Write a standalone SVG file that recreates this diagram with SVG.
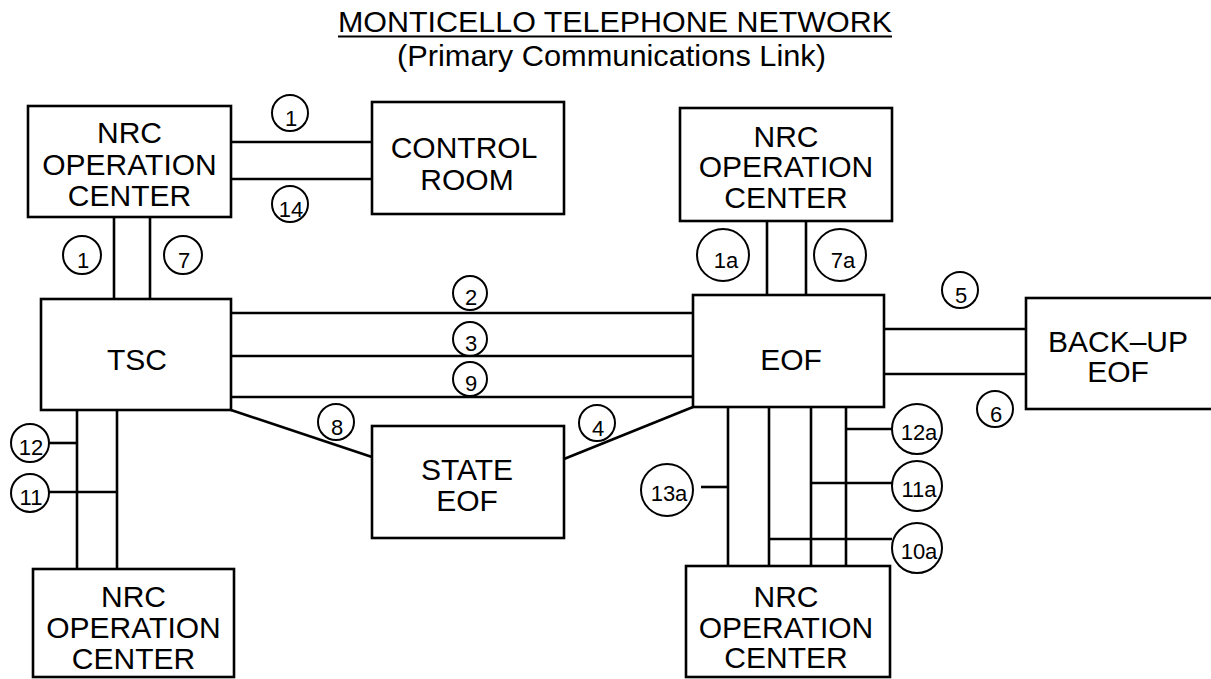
<svg xmlns="http://www.w3.org/2000/svg" width="1211" height="679" viewBox="0 0 1211 679">
<style>
.box{fill:#fff;stroke:#000;stroke-width:2.6}
.bt{font-family:"Liberation Sans",Arial,sans-serif;font-size:30px;text-anchor:middle;fill:#000}
.ln{stroke:#000;stroke-width:2.6;fill:none}
.cl{fill:none;stroke:#000;stroke-width:2}
.ct{font-family:"Liberation Sans",Arial,sans-serif;font-size:22px;text-anchor:middle;fill:#000}
.tt{font-family:"Liberation Sans",Arial,sans-serif;font-size:30px;fill:#000}
</style>
<rect width="1211" height="679" fill="#fff"/>
<g id="title">
<text class="tt" x="338" y="32" textLength="554" lengthAdjust="spacingAndGlyphs">MONTICELLO TELEPHONE NETWORK</text>
<line x1="338" y1="36.5" x2="892" y2="36.5" stroke="#000" stroke-width="2"/>
<text class="tt" x="397" y="66" textLength="429" lengthAdjust="spacingAndGlyphs">(Primary Communications Link)</text>
</g>
<g id="connectors">
<line class="ln" x1="231" y1="142" x2="372" y2="142"/>
<line class="ln" x1="231" y1="179" x2="372" y2="179"/>
<line class="ln" x1="114" y1="217" x2="114" y2="299"/>
<line class="ln" x1="150" y1="217" x2="150" y2="299"/>
<line class="ln" x1="231" y1="313" x2="693" y2="313"/>
<line class="ln" x1="231" y1="356" x2="693" y2="356"/>
<line class="ln" x1="231" y1="397" x2="693" y2="397"/>
<line class="ln" x1="767" y1="221" x2="767" y2="295"/>
<line class="ln" x1="806" y1="221" x2="806" y2="295"/>
<line class="ln" x1="884" y1="329" x2="1026" y2="329"/>
<line class="ln" x1="884" y1="374" x2="1026" y2="374"/>
<line class="ln" x1="231" y1="410" x2="372" y2="457"/>
<line class="ln" x1="564" y1="459" x2="693" y2="407"/>
<line class="ln" x1="77" y1="410" x2="77" y2="569"/>
<line class="ln" x1="117" y1="410" x2="117" y2="569"/>
<line class="ln" x1="49" y1="443" x2="77" y2="443"/>
<line class="ln" x1="49" y1="492" x2="117" y2="492"/>
<line class="ln" x1="728" y1="407" x2="728" y2="566"/>
<line class="ln" x1="769" y1="407" x2="769" y2="566"/>
<line class="ln" x1="811" y1="407" x2="811" y2="566"/>
<line class="ln" x1="846" y1="407" x2="846" y2="566"/>
<line class="ln" x1="846" y1="429" x2="892" y2="429"/>
<line class="ln" x1="811" y1="483" x2="892" y2="483"/>
<line class="ln" x1="769" y1="539" x2="892" y2="539"/>
<line class="ln" x1="701" y1="487" x2="728" y2="487"/>
</g>
<g id="labels">
<circle class="cl" cx="290" cy="113" r="18"/><text class="ct" x="291" y="126">1</text>
<circle class="cl" cx="290" cy="204" r="18"/><text class="ct" x="291" y="217">14</text>
<circle class="cl" cx="82" cy="255" r="19"/><text class="ct" x="83" y="268">1</text>
<circle class="cl" cx="183" cy="255" r="19"/><text class="ct" x="184" y="268">7</text>
<circle class="cl" cx="470" cy="293" r="17"/><text class="ct" x="471" y="305">2</text>
<circle class="cl" cx="470" cy="339" r="17"/><text class="ct" x="471" y="351">3</text>
<circle class="cl" cx="470" cy="379" r="17"/><text class="ct" x="471" y="391">9</text>
<circle class="cl" cx="336" cy="422" r="18"/><text class="ct" x="337" y="435">8</text>
<circle class="cl" cx="597" cy="423" r="18"/><text class="ct" x="598" y="436">4</text>
<circle class="cl" cx="723" cy="255" r="26"/><text class="ct" x="726" y="268">1a</text>
<circle class="cl" cx="840" cy="255" r="26"/><text class="ct" x="843" y="268">7a</text>
<circle class="cl" cx="960" cy="290" r="18"/><text class="ct" x="961" y="303">5</text>
<circle class="cl" cx="995" cy="409" r="18"/><text class="ct" x="996" y="422">6</text>
<circle class="cl" cx="917" cy="429" r="25"/><text class="ct" x="919" y="440">12a</text>
<circle class="cl" cx="917" cy="486" r="25"/><text class="ct" x="919" y="497">11a</text>
<circle class="cl" cx="917" cy="548" r="25"/><text class="ct" x="919" y="559">10a</text>
<circle class="cl" cx="667" cy="490" r="26"/><text class="ct" x="669" y="501">13a</text>
<circle class="cl" cx="30" cy="443" r="19"/><text class="ct" x="31" y="455">12</text>
<circle class="cl" cx="30" cy="493" r="19"/><text class="ct" x="31" y="505">11</text>
</g>
<g id="nrc-top-left">
<rect class="box" x="28" y="106" width="203" height="111"/>
<text class="bt" x="129.5" y="143">NRC</text>
<text class="bt" x="129.5" y="175">OPERATION</text>
<text class="bt" x="129.5" y="206">CENTER</text>
</g>
<g id="control-room">
<rect class="box" x="372" y="102" width="192" height="112"/>
<text class="bt" x="464" y="158">CONTROL</text>
<text class="bt" x="467" y="190">ROOM</text>
</g>
<g id="nrc-top-right">
<rect class="box" x="680" y="108" width="212" height="113"/>
<text class="bt" x="786" y="147">NRC</text>
<text class="bt" x="786" y="177">OPERATION</text>
<text class="bt" x="786" y="208">CENTER</text>
</g>
<g id="tsc">
<rect class="box" x="41" y="299" width="190" height="111"/>
<text class="bt" x="137" y="370">TSC</text>
</g>
<g id="eof">
<rect class="box" x="693" y="295" width="191" height="112"/>
<text class="bt" x="791" y="370">EOF</text>
</g>
<g id="backup-eof">
<rect class="box" x="1026" y="298" width="192" height="111"/>
<text class="bt" x="1118" y="352">BACK–UP</text>
<text class="bt" x="1118" y="382">EOF</text>
</g>
<g id="state-eof">
<rect class="box" x="372" y="426" width="192" height="112"/>
<text class="bt" x="467" y="480">STATE</text>
<text class="bt" x="467" y="511">EOF</text>
</g>
<g id="nrc-bottom-left">
<rect class="box" x="33" y="569" width="201" height="108"/>
<text class="bt" x="133.5" y="607">NRC</text>
<text class="bt" x="133.5" y="638">OPERATION</text>
<text class="bt" x="133.5" y="669">CENTER</text>
</g>
<g id="nrc-bottom-right">
<rect class="box" x="686" y="566" width="204" height="111"/>
<text class="bt" x="786" y="607">NRC</text>
<text class="bt" x="786" y="638">OPERATION</text>
<text class="bt" x="786" y="668">CENTER</text>
</g>
</svg>
